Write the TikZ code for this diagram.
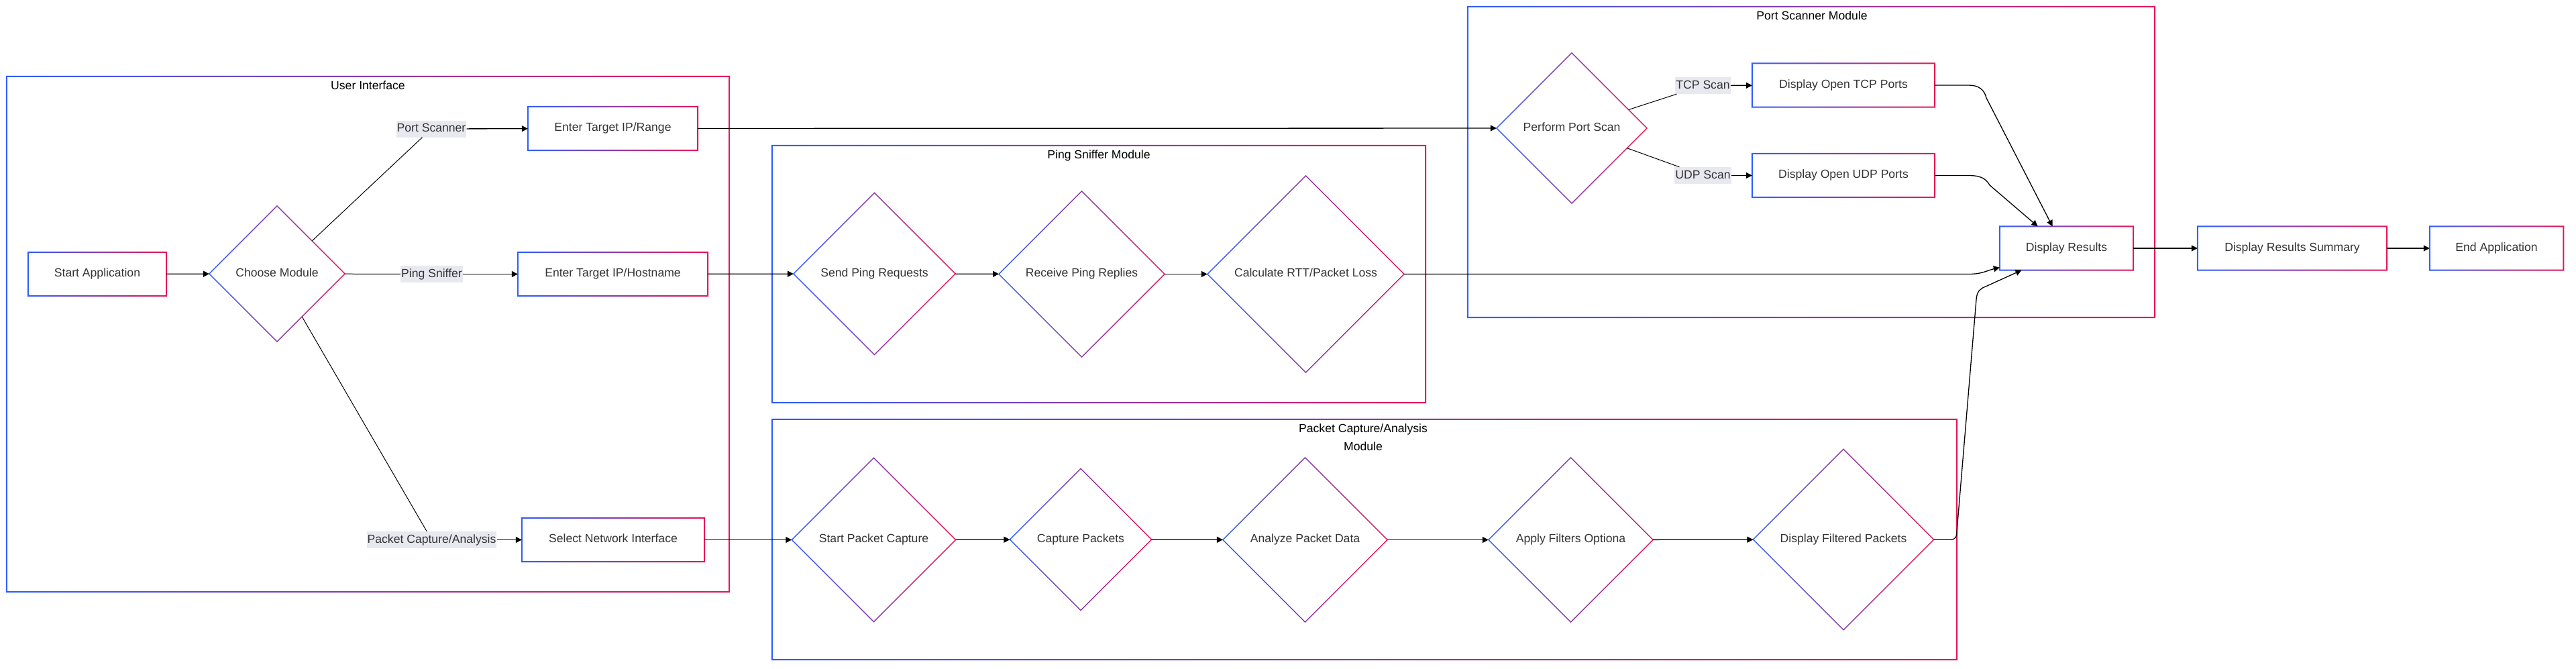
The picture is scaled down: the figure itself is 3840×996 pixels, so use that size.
\documentclass[tikz,border=0pt]{standalone}
\usepackage{fontspec}
\setmainfont{Liberation Sans}
\usetikzlibrary{shapes.geometric,arrows.meta}

\definecolor{ublue}{RGB}{45,95,255}
\definecolor{ured}{RGB}{232,22,85}
\definecolor{ink}{RGB}{51,51,51}
\definecolor{tagbg}{RGB}{232,232,240}

% gradient border round a rectangular node: #1 node, #2 half width of the line
\newcommand{\ringbox}[2]{%
  \shade[left color=ublue, right color=ured, even odd rule]
    ([shift={(-#2,#2)}]#1.south west) rectangle ([shift={(#2,-#2)}]#1.north east)
    ([shift={(#2,-#2)}]#1.south west) rectangle ([shift={(-#2,#2)}]#1.north east);}
% gradient border round a diamond node
\newcommand{\ringdia}[2]{%
  \shade[left color=ublue, right color=ured, even odd rule]
    ([shift={(0,-#2)}]#1.north) -- ([shift={(#2,0)}]#1.east) -- ([shift={(0,#2)}]#1.south) -- ([shift={(-#2,0)}]#1.west) -- cycle
    ([shift={(0,#2)}]#1.north) -- ([shift={(-#2,0)}]#1.east) -- ([shift={(0,-#2)}]#1.south) -- ([shift={(#2,0)}]#1.west) -- cycle;}

\begin{document}
\begin{tikzpicture}[x=1pt,y=-1pt,
  every node/.style={font=\fontsize{17.6}{27}\selectfont, text=ink},
  box/.style={rectangle, fill=white, minimum height=65pt, text height=12.6pt, text depth=3.7pt},
  dec/.style={diamond, aspect=1, inner sep=0pt, fill=white, text height=12.6pt, text depth=3.7pt},
  lbl/.style={fill=tagbg, inner xsep=1pt, inner ysep=1pt, text height=16pt, text depth=7pt},
  grp/.style={rectangle, inner sep=0pt},
  ttl/.style={text=black, align=center, inner sep=0pt, anchor=north},
  edge/.style={line width=1.3pt, -{Triangle[length=9pt,width=9pt]}},
  link/.style={line width=1pt}]

\fill[white] (0,0) rectangle (3840,996);
\useasboundingbox (0,0) rectangle (3840,996);

% subgraphs
\node[grp, minimum width=1077pt, minimum height=768pt] (ui) at (548.5,498) {};
\node[grp, minimum width=974pt, minimum height=383pt] (pingmod) at (1638,408.5) {};
\node[grp, minimum width=1766pt, minimum height=358pt] (pcapmod) at (2034,804) {};
\node[grp, minimum width=1024pt, minimum height=463pt] (portmod) at (2700,241.5) {};
\foreach \g in {ui,pingmod,pcapmod,portmod}
  \ringbox{\g}{1};

\node[ttl] at ([shift={(0,7)}]ui.north) {User Interface};
\node[ttl] at ([shift={(0,7)}]pingmod.north) {Ping Sniffer Module};
\node[ttl] at ([shift={(-2,7)}]pcapmod.north) {Packet Capture/Analysis\\Module};
\node[ttl] at ([shift={(1,7)}]portmod.north) {Port Scanner Module};

% user interface
\node[box, minimum width=206pt] (start) at (145,408.5) {Start Application};
\node[dec, minimum size=202pt] (choose) at (413,408) {Choose Module};
\node[lbl] (portlbl) at (643,192) {Port Scanner};
\node[lbl] (pinglbl) at (643.5,408.5) {Ping Sniffer};
\node[lbl] (pktlbl) at (643.5,804.5) {Packet Capture/Analysis};
\node[box, minimum width=253pt] (enterrange) at (913.5,191.5) {Enter Target IP/Range};
\node[box, minimum width=283pt] (enterhost) at (913.5,408.5) {Enter Target IP/Hostname};
\node[box, minimum width=272pt] (selectif) at (914,804.5) {Select Network Interface};

% ping sniffer
\node[dec, minimum size=241pt] (sendping) at (1303.5,408) {Send Ping Requests};
\node[dec, minimum size=247pt] (recvping) at (1612.5,408.5) {Receive Ping Replies};
\node[dec, minimum size=293pt] (calcrtt) at (1946.5,408.5) {Calculate RTT/Packet Loss};

% packet capture
\node[dec, minimum size=244pt] (startcap) at (1302.5,804.5) {Start Packet Capture};
\node[dec, minimum size=211pt] (cappkts) at (1611,804) {Capture Packets};
\node[dec, minimum size=245pt] (analyze) at (1945.5,804.5) {Analyze Packet Data};
\node[dec, minimum size=245pt] (applyf) at (2341.5,804.5) {Apply Filters Optiona};
\node[dec, minimum size=269pt] (dispfilt) at (2748,804) {Display Filtered Packets};

% port scanner
\node[dec, minimum size=224pt] (scan) at (2343,191) {Perform Port Scan};
\node[lbl] (tcplbl) at (2538.5,127.5) {TCP Scan};
\node[lbl] (udplbl) at (2538.5,261.5) {UDP Scan};
\node[box, minimum width=272pt] (tcpports) at (2748,127) {Display Open TCP Ports};
\node[box, minimum width=272pt] (udpports) at (2748,261.5) {Display Open UDP Ports};
\node[box, minimum width=199pt] (dispres) at (3080.5,370) {Display Results};

\node[box, minimum width=282pt] (summary) at (3417,370) {Display Results Summary};
\node[box, minimum width=199pt] (endapp) at (3721.5,370) {End Application};

\foreach \n in {start,enterrange,enterhost,selectif,tcpports,udpports,dispres,summary,endapp}
  \ringbox{\n}{1};
\foreach \n in {choose,sendping,recvping,calcrtt,startcap,cappkts,analyze,applyf,dispfilt,scan}
  \ringdia{\n}{1};

% connectors
\draw[edge] (start) -- (choose);
\draw[link] (choose) -- (portlbl);
\draw[edge] (portlbl) -- (enterrange);
\draw[link] (choose) -- (pinglbl);
\draw[edge] (pinglbl) -- (enterhost);
\draw[link] (choose) -- (pktlbl);
\draw[edge] (pktlbl) -- (selectif);

\draw[edge] (enterrange) -- (scan);
\draw[edge] (enterhost) -- (sendping);
\draw[edge] (selectif) -- (startcap);

\draw[edge] (sendping) -- (recvping);
\draw[edge] (recvping) -- (calcrtt);
\draw[edge] (startcap) -- (cappkts);
\draw[edge] (cappkts) -- (analyze);
\draw[edge] (analyze) -- (applyf);
\draw[edge] (applyf) -- (dispfilt);

\draw[link] (scan) -- (tcplbl);
\draw[edge] (tcplbl) -- (tcpports);
\draw[link] (scan) -- (udplbl);
\draw[edge] (udplbl) -- (udpports);

\draw[edge] (tcpports) -- (2935,127) .. controls (2950,127) and (2958,134) .. (2961,146) -- ([shift={(-21,0)}]dispres.north);
\draw[edge] (udpports) -- (2935,261.5) .. controls (2950,261.5) and (2960,265) .. (2966,276) -- ([shift={(-43,0)}]dispres.north);
\draw[edge] (calcrtt) -- (2935,408.5) .. controls (2955,408.5) and (2962,403) .. ([shift={(0,-4)}]dispres.south west);
\draw[edge] (dispfilt) -- (2908,804) .. controls (2915,804) and (2917,800) .. (2917,792) -- (2946,446) .. controls (2947,434) and (2952,430) .. (2960,427) -- ([shift={(-67,0)}]dispres.south);

\draw[edge] (dispres) -- (summary);
\draw[edge] (summary) -- (endapp);
\end{tikzpicture}
\end{document}
